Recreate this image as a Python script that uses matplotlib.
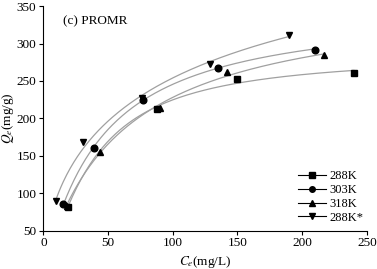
import numpy as np
import matplotlib.pyplot as plt

plt.rcParams['font.family'] = ['Liberation Serif', 'DejaVu Serif']
plt.rcParams['mathtext.fontset'] = 'stix'

# Data
labels = ['288K', '303K', '318K', '288K*']
markers = ['s', 'o', '^', 'v']
ce = [
    [19, 88, 150, 240],
    [15, 39, 77, 135, 210],
    [18, 44, 90, 142, 217],
    [10, 31, 76, 129, 190],
]
qe = [
    [82, 213, 253, 261],
    [85, 160, 225, 268, 292],
    [83, 155, 214, 262, 285],
    [89, 168, 227, 273, 312],
]


def sips_fit(c, q):
    # grid search over K and n, Qm by least squares
    c = np.asarray(c, float)
    q = np.asarray(q, float)
    best = None
    for k in np.logspace(-4, 0, 120):
        for n in np.linspace(0.5, 2.0, 61):
            f = (k * c) ** n / (1 + (k * c) ** n)
            qm = (f @ q) / (f @ f)
            err = np.sum((qm * f - q) ** 2)
            if best is None or err < best[0]:
                best = (err, qm, k, n)
    return best[1:]


fig, ax = plt.subplots(figsize=(3.77, 2.69), dpi=100)
fig.subplots_adjust(left=0.115, right=0.973, bottom=0.143, top=0.977)

for lab, m, c, q in zip(labels, markers, ce, qe):
    qm, k, n = sips_fit(c, q)
    xs = np.linspace(min(c), max(c), 200)
    ys = qm * (k * xs) ** n / (1 + (k * xs) ** n)
    ax.plot(xs, ys, color='#a0a0a0', lw=0.9, zorder=1)
    ax.plot(c, q, linestyle='none', marker=m, color='black', ms=4.8, zorder=2)
    ax.plot([], [], color='black', lw=0.8, marker=m, ms=4, label=lab)

ax.set_xlim(0, 250)
ax.set_ylim(50, 350)
ax.set_xticks(range(0, 251, 50))
ax.set_yticks(range(50, 351, 50))
ax.spines['top'].set_visible(False)
ax.spines['right'].set_visible(False)
ax.tick_params(labelsize=9.5, length=3, width=0.8, pad=2)
ax.set_xlabel('$C_e$(mg/L)', fontsize=9.5, labelpad=3)
ax.set_ylabel('$Q_e$(mg/g)', fontsize=9.5, labelpad=0)
ax.text(0.06, 0.92, '(c) PROMR', transform=ax.transAxes, fontsize=9.5)
ax.legend(loc='lower right', frameon=False, fontsize=9, handlelength=2.2,
          labelspacing=0.15, handletextpad=0.3, bbox_to_anchor=(1.025, -0.02))

fig.savefig('out.png', dpi=100)
